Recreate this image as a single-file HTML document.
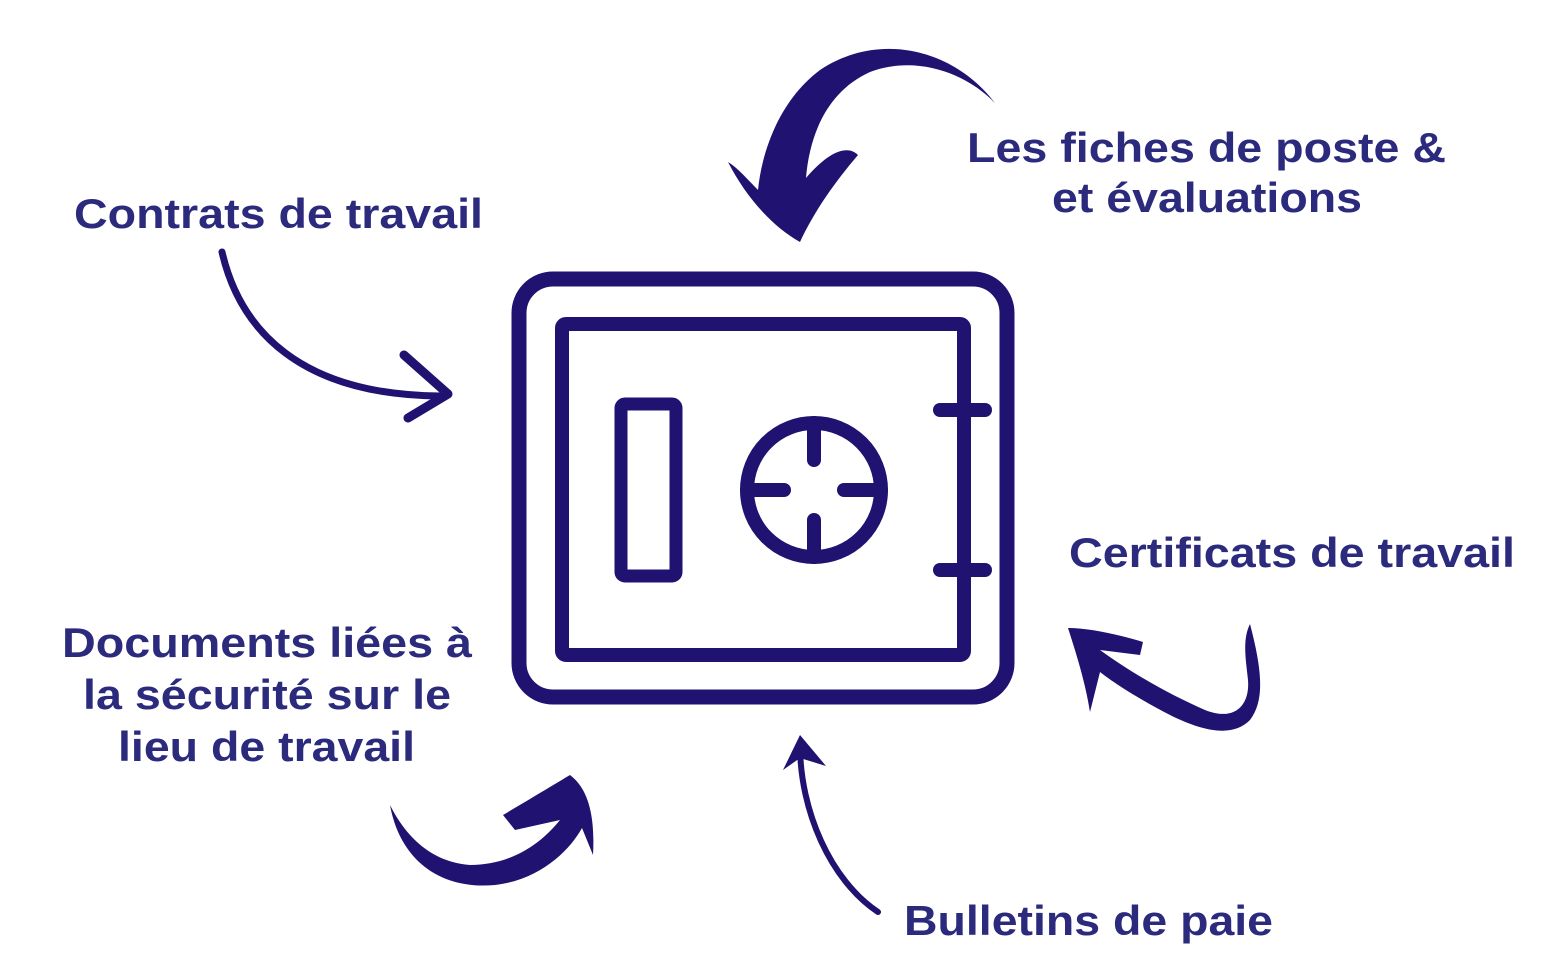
<!DOCTYPE html>
<html><head><meta charset="utf-8"><style>
html,body{margin:0;padding:0;background:#fff;}
svg{display:block;}
text{font-family:"Liberation Sans",sans-serif;font-weight:bold;font-size:42px;fill:#2b2a7c;}
</style></head><body>
<svg width="1546" height="980" viewBox="0 0 1546 980" xmlns="http://www.w3.org/2000/svg">
<g fill="none" stroke="#1f1270" stroke-linecap="round" stroke-linejoin="round">
  <rect x="519" y="279" width="488" height="418" rx="34" stroke-width="15"/>
  <rect x="562" y="324" width="402" height="331" rx="4" stroke-width="14"/>
  <rect x="621" y="404" width="55" height="172" rx="4" stroke-width="13"/>
  <circle cx="814" cy="490" r="67" stroke-width="14"/>
  <line x1="814" y1="423" x2="814" y2="460" stroke-width="14"/>
  <line x1="814" y1="520" x2="814" y2="557" stroke-width="14"/>
  <line x1="747" y1="490" x2="784" y2="490" stroke-width="14"/>
  <line x1="844" y1="490" x2="881" y2="490" stroke-width="14"/>
  <line x1="940" y1="410" x2="985" y2="410" stroke-width="14"/>
  <line x1="940" y1="570" x2="985" y2="570" stroke-width="14"/>
  <path d="M222 252 C240 330 300 395 440 396" stroke-width="7"/>
  <path d="M404 355 L448 394 L408 418" stroke-width="9"/>
  <path d="M878 912 C830 880 800 810 800 745" stroke-width="6"/>
</g>
<g fill="#1f1270">
  <!-- top arrow -->
  <path d="M995 103 C955 50 880 30 820 70 C780 100 762 150 758 190 C748 180 738 168 728 162 C745 195 770 225 800 242 C815 210 835 182 858 155 C848 145 830 150 806 178 C810 130 830 90 870 72 C915 55 965 72 995 103 Z"/>
  <path d="M390 805 C400 860 440 890 495 885 C540 880 570 850 582 828 L593 855 C595 820 590 790 570 775 C545 790 520 805 503 815 L515 830 L560 820 C540 845 510 865 470 865 C430 862 405 835 390 805 Z"/>
  <path d="M1250 624 C1262 670 1265 700 1250 720 C1235 735 1210 735 1170 715 C1135 697 1110 680 1100 672 L1090 712 C1085 680 1075 650 1068 628 C1090 628 1120 635 1143 642 L1140 655 L1100 650 C1130 672 1170 695 1205 710 C1235 722 1250 705 1248 680 C1246 660 1242 640 1250 624 Z"/>
  <path d="M800 735 L783 770 L800 758 L826 766 Z"/>
</g>
<text x="74" y="228" textLength="409" lengthAdjust="spacingAndGlyphs">Contrats de travail</text>
<text x="967" y="162" textLength="479" lengthAdjust="spacingAndGlyphs">Les fiches de poste &amp;</text>
<text x="1052" y="212" textLength="310" lengthAdjust="spacingAndGlyphs">et évaluations</text>
<text x="1069" y="567" textLength="446" lengthAdjust="spacingAndGlyphs">Certificats de travail</text>
<text x="62" y="657" textLength="410" lengthAdjust="spacingAndGlyphs">Documents liées à</text>
<text x="83" y="709" textLength="368" lengthAdjust="spacingAndGlyphs">la sécurité sur le</text>
<text x="118" y="761" textLength="297" lengthAdjust="spacingAndGlyphs">lieu de travail</text>
<text x="904" y="935" textLength="369" lengthAdjust="spacingAndGlyphs">Bulletins de paie</text>
</svg>
</body></html>
